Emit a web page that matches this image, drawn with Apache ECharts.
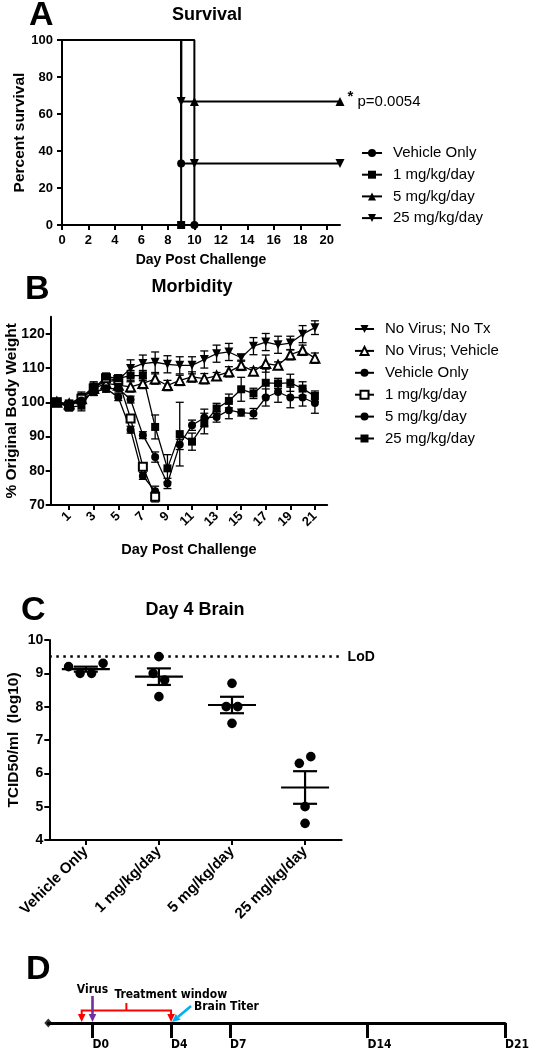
<!DOCTYPE html>
<html><head><meta charset="utf-8">
<script src="https://cdn.jsdelivr.net/npm/echarts@6/dist/echarts.min.js"></script>
<style>html,body{margin:0;padding:0;background:#fff}#c{width:537px;height:1050px}</style>
</head><body><div id="c"></div>
<script>
// ================= DATA =================
// ---- Panel A: Survival (Kaplan-Meier steps: [day, percent])
const survNames = ['Vehicle Only', '1 mg/kg/day', '5 mg/kg/day', '25 mg/kg/day'];
const survVehicle = [[0, 100], [9, 33.3], [10, 0]];
const surv1mg = [[0, 100], [9, 0]];
const surv5mg = [[0, 100], [10, 66.7], [21, 66.7]];
const surv25mg = [[0, 100], [9, 66.7], [10, 33.3], [21, 33.3]];
const survXTicks = [0, 2, 4, 6, 8, 10, 12, 14, 16, 18, 20];
const survYTicks = [0, 20, 40, 60, 80, 100];
const pValueText = 'p=0.0054';

// ---- Panel B: Morbidity (% original body weight, mean and SEM)
const morbDays = [0, 1, 2, 3, 4, 5, 6, 7, 8, 9, 10, 11, 12, 13, 14, 15, 16, 17, 18, 19, 20, 21];
const morbNames = ['No Virus; No Tx', 'No Virus; Vehicle', 'Vehicle Only', '1 mg/kg/day', '5 mg/kg/day', '25 mg/kg/day'];
const wNoTx  = [100, 99.5, 101.5, 104.5, 106, 106.5, 109.9, 111.3, 111.7, 111.1, 110.8, 110.8, 112.5, 114.2, 114.7, 113, 116.4, 117.6, 116.8, 117.3, 119.9, 121.8];
const eNoTx  = [0.5, 1, 1.5, 1.5, 1.5, 1.5, 2.5, 2.5, 3, 2.5, 2.5, 2.5, 2.5, 2.5, 2.5, 1, 2.5, 2.5, 2.5, 2, 2.5, 2];
const wNoVeh = [100, 99.5, 101, 104, 105.5, 105, 104.5, 105.5, 106.8, 104.9, 106.4, 107.4, 106.9, 107.7, 108.9, 110.8, 109.1, 111.3, 110.8, 113.9, 115.2, 112.9];
const eNoVeh = [0.5, 1, 1, 1.5, 1.5, 1.5, 1.5, 1.5, 1.5, 1.5, 1.5, 1.5, 1.5, 1, 1.5, 1.5, 1, 2.5, 1, 1.5, 1.5, 1.5];
const wVeh   = [100, 99, 100.5, 103, 104, 101.5, 92, 78.5, 74];
const eVeh   = [0.5, 1, 1, 1, 1, 1, 1, 1, 1.5];
const w1mg   = [100, 99, 101, 104, 107, 106.5, 95.3, 81.2, 72.4];
const e1mg   = [0.5, 1, 1, 1, 1, 1, 1, 1, 1.5];
const w5mg   = [100, 99.5, 100.5, 103, 104, 104, 100.8, 90.4, 84, 76.3, 87.7, 93.3, 95.5, 95.7, 97.7, 97, 96.7, 101.4, 103, 101.4, 101.4, 99.8];
const e5mg   = [0.5, 1, 1, 1, 1, 1, 1, 1, 1.5, 1.5, 1.5, 1.5, 2.5, 1.5, 2.5, 1, 1.5, 2.5, 3, 3, 2.5, 3];
const w25mg  = [100, 98.5, 99, 104, 107.5, 107, 107.8, 107.8, 92.8, 80.7, 90.7, 88.5, 93.8, 98.2, 100.4, 103.8, 102.6, 105.7, 105.5, 105.7, 104, 101.8];
const e25mg  = [0.5, 1, 1.5, 1, 1, 1, 1.5, 1.5, 3.5, 4, 9.3, 2.5, 3, 1.5, 2, 3.5, 1.5, 4, 1.5, 2.5, 2, 1.5];
const morbXTicks = [1, 3, 5, 7, 9, 11, 13, 15, 17, 19, 21];
const morbYTicks = [70, 80, 90, 100, 110, 120];

// ---- Panel C: Day 4 brain titer (log10 TCID50/ml)
const titerGroups = ['Vehicle Only', '1 mg/kg/day', '5 mg/kg/day', '25 mg/kg/day'];
const titerVehicle = [9.2, 9.0, 9.0, 9.3];
const titer1mg = [9.5, 9.0, 8.8, 8.3];
const titer5mg = [8.7, 8.0, 8.0, 7.5];
const titer25mg = [6.3, 6.5, 5.0, 4.5];
const lodValue = 9.5;
const titerYTicks = [4, 5, 6, 7, 8, 9, 10];

// ---- Panel D: study timeline (days)
const timelineDays = [0, 4, 7, 14, 21];
const timelineLabels = ['D0', 'D4', 'D7', 'D14', 'D21'];
const timelineStart = -2.25;
const virusDay = 0;
const treatStart = -0.55;
const treatEnd = 4;
const brainTiterDay = 4;

// ================= RENDER =================
const FONT = '"Liberation Sans", Arial, Helvetica, sans-serif';
const NARROW = '"Liberation Sans Narrow", "Arial Narrow", "DejaVu Sans Condensed", sans-serif';
const K = '#000';
const axLine = { show: true, onZero: false, lineStyle: { color: K, width: 2 } };
const axTick = (vals, len) => ({ show: true, inside: false, length: len || 5, customValues: vals, lineStyle: { color: K, width: 2 } });
const axLabel = (vals, size, extra) => Object.assign({ show: true, customValues: vals, color: K, fontFamily: FONT, fontWeight: 'bold', fontSize: size, margin: 5 }, extra || {});
const nameStyle = (size) => ({ color: K, fontFamily: FONT, fontWeight: 'bold', fontSize: size });

// Panel A series
function km(name, pts, symbol, rot, size, endLabel) {
  return {
    type: 'line', name, xAxisIndex: 0, yAxisIndex: 0, step: 'end',
    data: pts.map((p, i) => {
      const item = { value: p };
      if (p[0] === 0) item.symbol = 'none';
      if (endLabel && i === pts.length - 1) {
        item.label = {
          show: true, position: 'right', distance: 3, color: K, fontFamily: FONT,
          formatter: '{a|*}{b| ' + endLabel + '}',
          rich: { a: { fontSize: 15, fontWeight: 'bold', color: K, padding: [0, 0, 9, 0] }, b: { fontSize: 15, color: K } }
        };
      }
      return item;
    }),
    symbol, symbolSize: size, symbolRotate: rot, showAllSymbol: true,
    lineStyle: { color: K, width: 2 }, itemStyle: { color: K }, z: 3
  };
}
const seriesA = [
  km(survNames[0], survVehicle, 'circle', 0, 8),
  km(survNames[1], surv1mg, 'rect', 0, 8),
  km(survNames[2], surv5mg, 'triangle', 0, 9, pValueText),
  km(survNames[3], surv25mg, 'triangle', 180, 9)
];

// Panel B series
const morbDefs = [
  { vals: wNoTx, errs: eNoTx, symbol: 'triangle', rot: 180, size: 9 },
  { vals: wNoVeh, errs: eNoVeh, symbol: 'emptyTriangle', rot: 0, size: 9 },
  { vals: wVeh, errs: eVeh, symbol: 'circle', rot: 0, size: 8 },
  { vals: w1mg, errs: e1mg, symbol: 'emptyRect', rot: 0, size: 8 },
  { vals: w5mg, errs: e5mg, symbol: 'circle', rot: 0, size: 8 },
  { vals: w25mg, errs: e25mg, symbol: 'rect', rot: 0, size: 8 }
];
const seriesB = [];
morbDefs.forEach((d, k) => {
  seriesB.push({
    type: 'custom', xAxisIndex: 1, yAxisIndex: 1, silent: true, z: 1,
    data: d.vals.map((v, i) => [morbDays[i], v, d.errs[i]]),
    encode: { x: 0, y: 1 },
    renderItem: (params, api) => {
      const x = api.value(0), y = api.value(1), e = api.value(2);
      const t = api.coord([x, y + e]), b = api.coord([x, y - e]);
      const hw = 4, st = { stroke: K, lineWidth: 1.3 };
      return { type: 'group', children: [
        { type: 'line', shape: { x1: t[0], y1: t[1], x2: b[0], y2: b[1] }, style: st },
        { type: 'line', shape: { x1: t[0] - hw, y1: t[1], x2: t[0] + hw, y2: t[1] }, style: st },
        { type: 'line', shape: { x1: b[0] - hw, y1: b[1], x2: b[0] + hw, y2: b[1] }, style: st }
      ] };
    }
  });
  seriesB.push({
    type: 'line', name: 'B:' + morbNames[k], xAxisIndex: 1, yAxisIndex: 1, z: 3,
    data: d.vals.map((v, i) => [morbDays[i], v]),
    symbol: d.symbol, symbolRotate: d.rot, symbolSize: d.size, showAllSymbol: true,
    lineStyle: { color: K, width: 1.3 }, itemStyle: { color: K, borderWidth: 2 }
  });
});

// Panel C series
const titerSets = [titerVehicle, titer1mg, titer5mg, titer25mg];
function swarmOffsets(vals, thresh, step) {
  const idx = vals.map((v, i) => i).sort((a, b) => vals[a] - vals[b]);
  const clusters = [];
  idx.forEach(i => {
    const last = clusters[clusters.length - 1];
    if (last && Math.abs(vals[i] - vals[last[last.length - 1]]) < thresh) last.push(i); else clusters.push([i]);
  });
  const off = vals.map(() => 0);
  clusters.forEach(c => { c.sort((a, b) => a - b); c.forEach((i, k) => { off[i] = (k - (c.length - 1) / 2) * step; }); });
  return off;
}
const pointData = [], statData = [];
titerSets.forEach((vals, g) => {
  const off = swarmOffsets(vals, 0.32, 11.5);
  vals.forEach((v, i) => pointData.push([g, v, off[i]]));
  const n = vals.length, m = vals.reduce((a, b) => a + b, 0) / n;
  const sd = Math.sqrt(vals.reduce((a, b) => a + (b - m) * (b - m), 0) / (n - 1));
  statData.push([g, m, sd / Math.sqrt(n)]);
});
const seriesC = [
  {
    type: 'custom', xAxisIndex: 2, yAxisIndex: 2, silent: true, z: 3, data: pointData, encode: { x: 0, y: 1 },
    renderItem: (params, api) => {
      const p = api.coord([api.value(0), api.value(1)]);
      return { type: 'circle', shape: { cx: p[0] + api.value(2), cy: p[1], r: 4.8 }, style: { fill: K } };
    }
  },
  {
    type: 'custom', xAxisIndex: 2, yAxisIndex: 2, silent: true, z: 2, data: statData, encode: { x: 0, y: 1 },
    renderItem: (params, api) => {
      const g = api.value(0), m = api.value(1), s = api.value(2);
      const c = api.coord([g, m]), t = api.coord([g, m + s]), b = api.coord([g, m - s]);
      const st = { stroke: K, lineWidth: 2.2 };
      return { type: 'group', children: [
        { type: 'line', shape: { x1: c[0] - 24, y1: c[1], x2: c[0] + 24, y2: c[1] }, style: st },
        { type: 'line', shape: { x1: t[0], y1: t[1], x2: b[0], y2: b[1] }, style: st },
        { type: 'line', shape: { x1: t[0] - 12, y1: t[1], x2: t[0] + 12, y2: t[1] }, style: st },
        { type: 'line', shape: { x1: b[0] - 12, y1: b[1], x2: b[0] + 12, y2: b[1] }, style: st }
      ] };
    }
  },
  {
    type: 'line', xAxisIndex: 2, yAxisIndex: 2, data: [], symbol: 'none',
    markLine: {
      silent: true, symbol: 'none', data: [{ yAxis: lodValue }],
      lineStyle: { type: [2.5, 4.5], width: 2.5, color: K },
      label: { position: 'end', formatter: 'LoD', color: K, fontFamily: FONT, fontWeight: 'bold', fontSize: 14, distance: 6 }
    }
  }
];

// Panel D series
const seriesD = [
  { type: 'scatter', xAxisIndex: 3, yAxisIndex: 3, data: [[timelineStart, 0]], symbol: 'diamond', symbolSize: [8, 9], itemStyle: { color: K }, silent: true, z: 4 },
  {
    type: 'custom', xAxisIndex: 3, yAxisIndex: 3, silent: true, z: 5, data: [[virusDay, 0]], encode: { x: 0, y: 1 },
    renderItem: (params, api) => {
      const X = d => api.coord([d, 0])[0];
      const base = api.coord([virusDay, 0])[1];
      const xs = X(treatStart), xe = X(treatEnd), xv = X(virusDay), xb = X(brainTiterDay);
      const red = '#FF0000', purple = '#7030A0', blue = '#00B0F0';
      const by = base - 12.5, mid = (xs + xe) / 2;
      const head = (x, y, color) => ({ type: 'polygon', shape: { points: [[x - 3.8, y - 8], [x + 3.8, y - 8], [x, y]] }, style: { fill: color } });
      const txt = (text, x, y, align) => ({ type: 'text', x, y, style: { text, fill: K, fontFamily: NARROW, fontWeight: 'bold', fontSize: 12, align: align, verticalAlign: 'middle' } });
      // blue diagonal arrow
      const bx0 = xb + 20, by0 = base - 17, bx1 = xb + 1, by1 = base - 1;
      const ang = Math.atan2(by1 - by0, bx1 - bx0), L = 8, W = 3.8;
      const bBase = [bx1 - L * Math.cos(ang), by1 - L * Math.sin(ang)];
      const nx = -Math.sin(ang), ny = Math.cos(ang);
      return { type: 'group', children: [
        { type: 'polyline', shape: { points: [[xs, base - 8], [xs, by], [xe, by], [xe, base - 8]] }, style: { stroke: red, lineWidth: 2, fill: null } },
        { type: 'line', shape: { x1: mid, y1: by, x2: mid, y2: base - 20 }, style: { stroke: red, lineWidth: 2 } },
        head(xs, base - 1, red), head(xe, base - 1, red),
        { type: 'line', shape: { x1: xv, y1: base - 27, x2: xv, y2: base - 8 }, style: { stroke: purple, lineWidth: 2.6 } },
        head(xv, base - 1, purple),
        { type: 'line', shape: { x1: bx0, y1: by0, x2: bBase[0], y2: bBase[1] }, style: { stroke: blue, lineWidth: 2.6 } },
        { type: 'polygon', shape: { points: [[bx1, by1], [bBase[0] + nx * W, bBase[1] + ny * W], [bBase[0] - nx * W, bBase[1] - ny * W]] }, style: { fill: blue } },
        txt('Virus', xv, base - 33, 'center'),
        txt('Treatment window', mid - 12, base - 28, 'left'),
        txt('Brain Titer', xb + 23, base - 16, 'left')
      ] };
    }
  }
];

const gtext = (text, x, y, size, align) => ({ type: 'text', x, y, silent: true, style: { text, fill: K, fontFamily: FONT, fontWeight: 'bold', fontSize: size, align: align || 'center', verticalAlign: 'middle' } });

const option = {
  animation: false,
  backgroundColor: '#fff',
  textStyle: { fontFamily: FONT },
  graphic: [
    gtext('A', 29, 16, 34, 'left'), gtext('Survival', 207, 15, 18),
    gtext('B', 25, 290, 34, 'left'), gtext('Morbidity', 192, 287, 18),
    gtext('C', 21, 611, 34, 'left'), gtext('Day 4 Brain', 195, 610, 18),
    gtext('D', 26, 970, 34, 'left')
  ],
  legend: [
    {
      orient: 'vertical', left: 361, top: 145.5, padding: 0, itemWidth: 20, itemHeight: 10, itemGap: 6.7,
      selectedMode: false, data: survNames,
      textStyle: { fontSize: 15, color: K, fontFamily: FONT, padding: [0, 0, 0, 6] }
    },
    {
      orient: 'vertical', left: 354, top: 321.5, padding: 0, itemWidth: 19, itemHeight: 10, itemGap: 6.9,
      selectedMode: false, data: morbNames.map(n => 'B:' + n), formatter: n => n.slice(2),
      textStyle: { fontSize: 15, color: K, fontFamily: FONT, padding: [0, 0, 0, 6] }
    }
  ],
  grid: [
    { left: 62, top: 40, width: 278, height: 185, containLabel: false, outerBoundsMode: 'none' },
    { left: 50.7, top: 316.7, width: 276.5, height: 188.3, containLabel: false, outerBoundsMode: 'none' },
    { left: 49.3, top: 640, width: 292.3, height: 200, containLabel: false, outerBoundsMode: 'none' },
    { left: 48.3, top: 985, width: 456.7, height: 38, containLabel: false, outerBoundsMode: 'none' }
  ],
  xAxis: [
    {
      gridIndex: 0, type: 'value', min: 0, max: 21, interval: 1,
      axisLine: axLine, axisTick: axTick(survXTicks), axisLabel: axLabel(survXTicks, 13, { margin: 9 }), splitLine: { show: false },
      name: 'Day Post Challenge', nameLocation: 'middle', nameGap: 28, nameMoveOverlap: false, nameTextStyle: nameStyle(14)
    },
    {
      gridIndex: 1, type: 'value', min: -0.5, max: 22, interval: 0.5,
      axisLine: axLine, axisTick: axTick(morbXTicks), axisLabel: axLabel(morbXTicks, 13, { rotate: 45, margin: 9 }), splitLine: { show: false },
      name: 'Day Post Challenge', nameLocation: 'middle', nameGap: 37, nameMoveOverlap: false, nameTextStyle: nameStyle(14.5)
    },
    {
      gridIndex: 2, type: 'category', data: titerGroups, boundaryGap: true,
      axisLine: axLine, axisTick: { show: true, alignWithLabel: true, length: 5, lineStyle: { color: K, width: 2 } },
      axisLabel: { show: true, interval: 0, rotate: 45, color: K, fontFamily: FONT, fontWeight: 'bold', fontSize: 15, margin: 9 }
    },
    {
      gridIndex: 3, type: 'value', min: timelineStart, max: 21, interval: 0.25,
      axisLine: { show: true, onZero: false, lineStyle: { color: K, width: 3 } },
      axisTick: { show: true, inside: false, length: 15, customValues: timelineDays, lineStyle: { color: K, width: 3 } },
      axisLabel: { show: true, customValues: timelineDays, formatter: v => timelineLabels[timelineDays.indexOf(v)], color: K, fontFamily: NARROW, fontWeight: 'bold', fontSize: 12, margin: 16, align: 'left' },
      splitLine: { show: false }
    }
  ],
  yAxis: [
    {
      gridIndex: 0, type: 'value', min: 0, max: 100, interval: 20,
      axisLine: axLine, axisTick: axTick(survYTicks), axisLabel: axLabel(survYTicks, 13, { margin: 9 }), splitLine: { show: false },
      name: 'Percent survival', nameLocation: 'middle', nameGap: 34, nameMoveOverlap: false, nameTextStyle: nameStyle(15.5)
    },
    {
      gridIndex: 1, type: 'value', min: 70, max: 125, interval: 5,
      axisLine: axLine, axisTick: axTick(morbYTicks), axisLabel: axLabel(morbYTicks, 14, { margin: 6 }), splitLine: { show: false },
      name: '% Original Body Weight', nameLocation: 'middle', nameGap: 31, nameMoveOverlap: false, nameTextStyle: nameStyle(15.5)
    },
    {
      gridIndex: 2, type: 'value', min: 4, max: 10, interval: 1,
      axisLine: axLine, axisTick: axTick(titerYTicks), axisLabel: axLabel(titerYTicks, 14, { margin: 6 }), splitLine: { show: false },
      name: 'TCID50/ml  (log10)', nameLocation: 'middle', nameGap: 28, nameMoveOverlap: false, nameTextStyle: nameStyle(15.5)
    },
    { gridIndex: 3, type: 'value', min: 0, max: 1, show: false }
  ],
  series: [].concat(seriesA, seriesB, seriesC, seriesD)
};

const chart = echarts.init(document.getElementById('c'), null, { renderer: 'canvas', width: 537, height: 1050 });
chart.setOption(option);
</script>
</body></html>
